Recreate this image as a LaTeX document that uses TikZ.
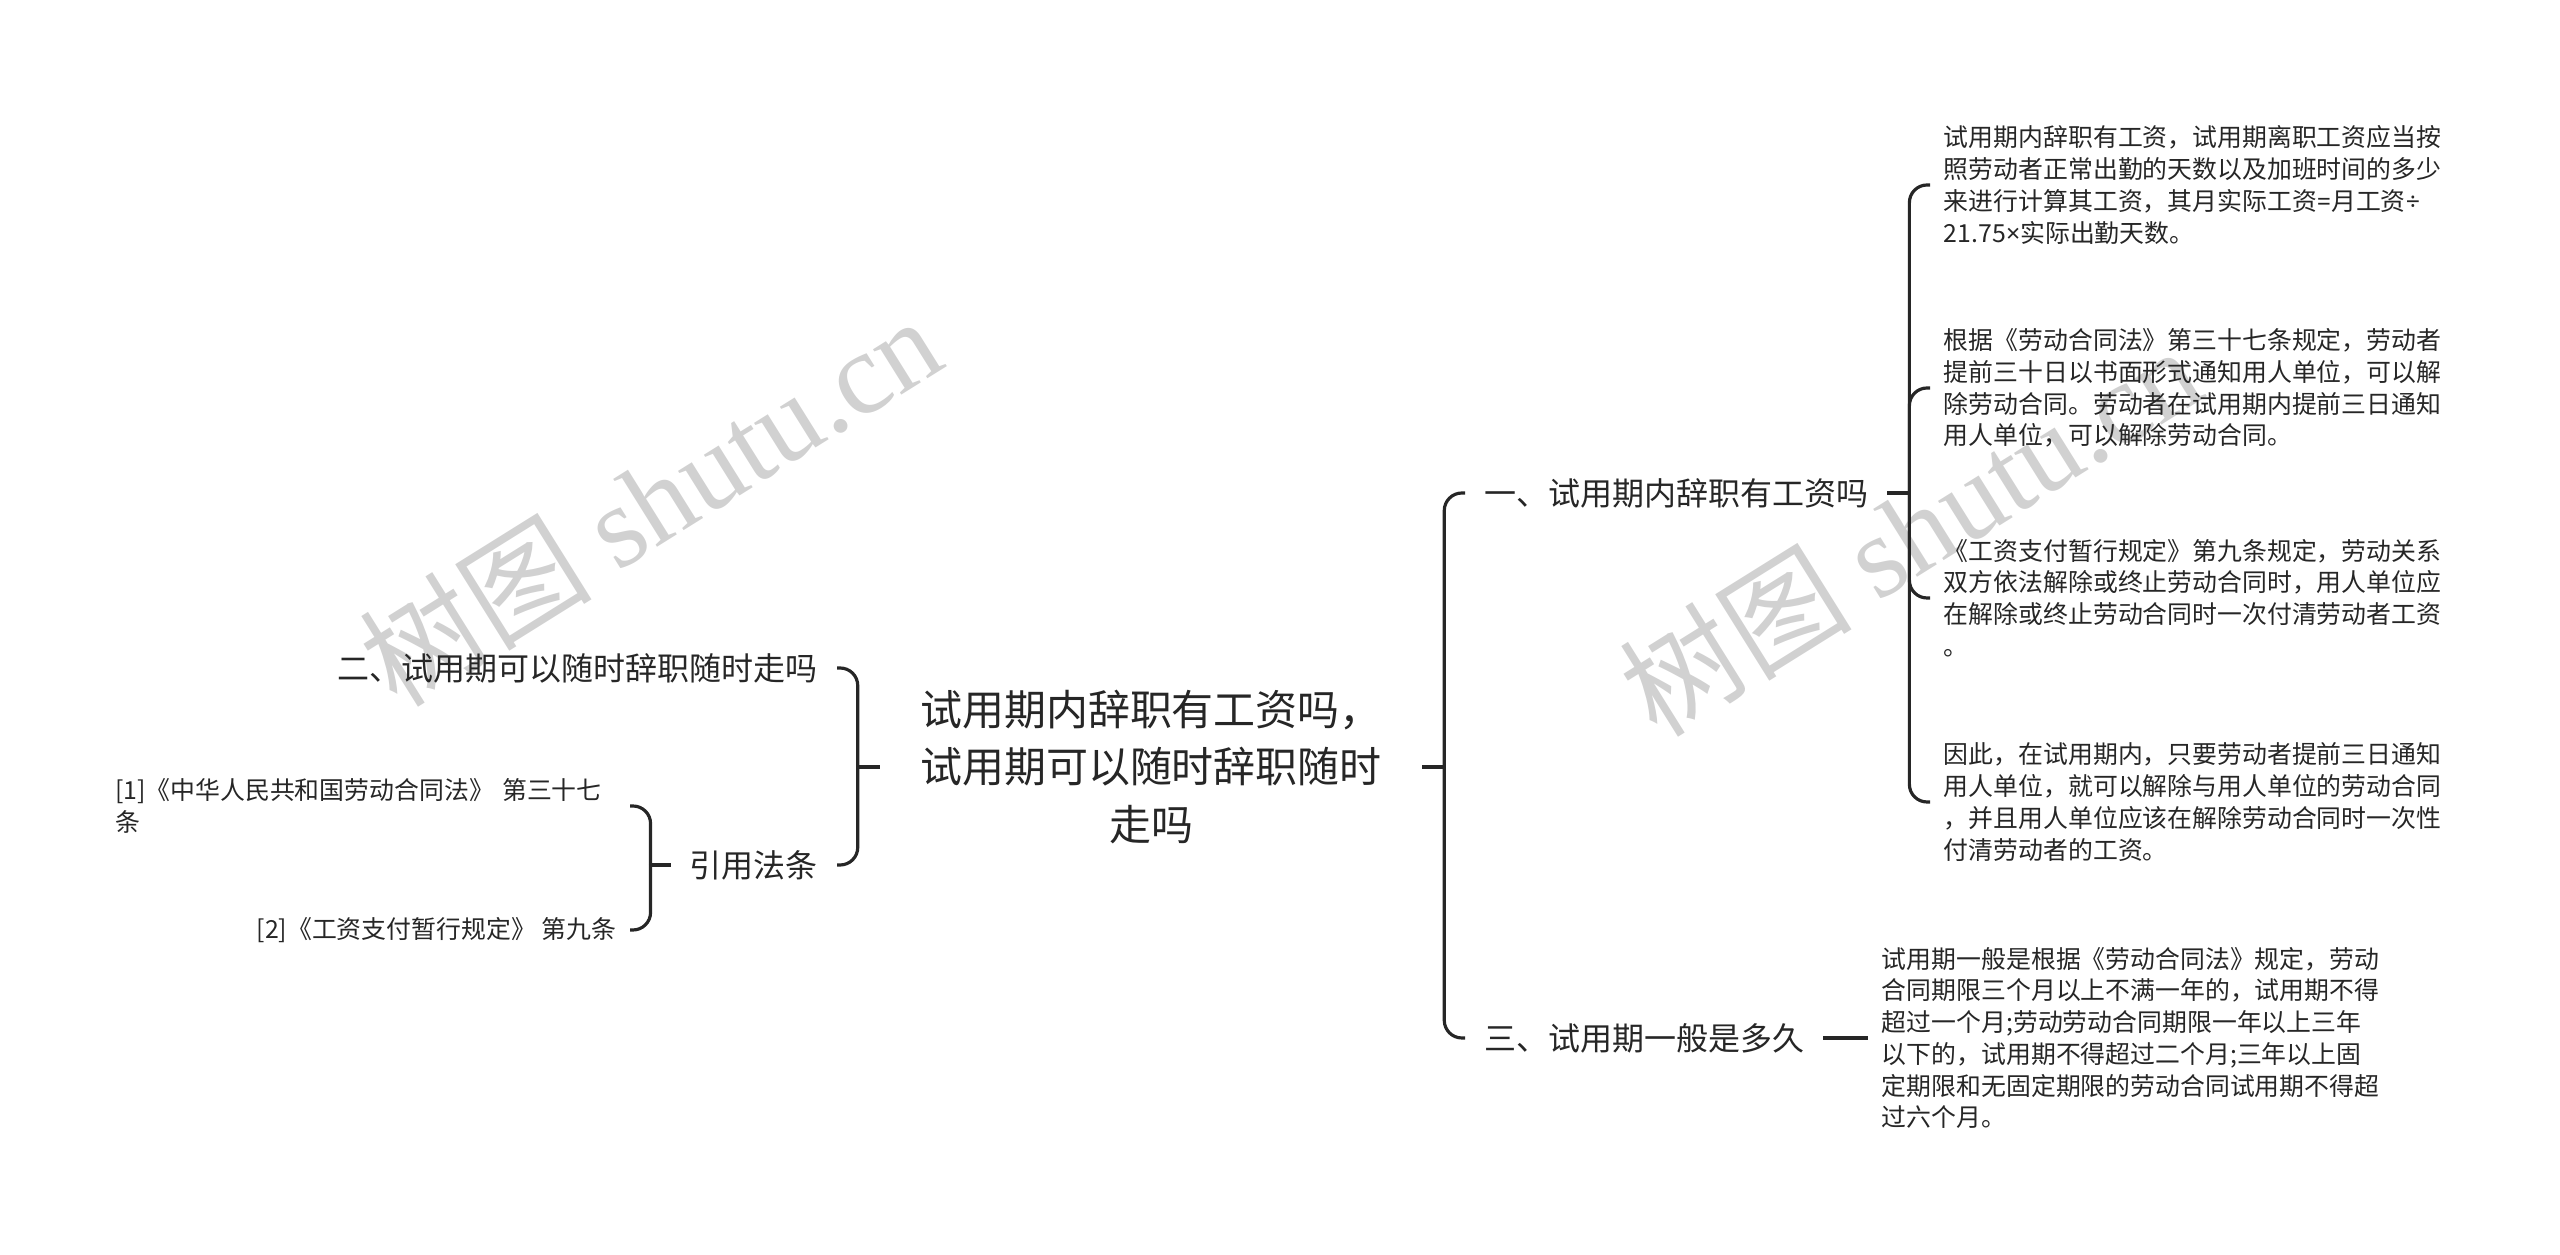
\documentclass[tikz,border=0pt]{standalone}
\usepackage{fontspec}
\setmainfont{Noto Sans CJK SC}
\newfontfamily\wmserif{Liberation Serif}
\newfontfamily\latinsign{Noto Sans}
\begin{document}
\begin{tikzpicture}[x=0.2835pt, y=-0.2835pt, line width=0.9pt, color=black!85,
    rootnode/.style={inner xsep=11pt, inner ysep=2pt, align=center, font=\fontsize{11.9}{16.2}\selectfont},
    branchnode/.style={inner xsep=5pt, inner ysep=2pt, font=\fontsize{9.07}{11}\selectfont},
    leafnode/.style={inner xsep=3.5pt, inner ysep=2pt, align=left, font=\fontsize{7.05}{9}\selectfont},
    link/.style={rounded corners=5pt},
    wmark/.style={text=black!18, rotate=32, font=\fontsize{33}{33}\selectfont}]
    \useasboundingbox (0,0) rectangle (2560,1255);
    % watermark
    \node[wmark] (wm1) at (650,500) {树图 {\wmserif shutu.cn}};
    \node[wmark] (wm2) at (1910,530) {树图 {\wmserif shutu.cn}};
    % root and branches
    \node[rootnode] (root) at (1151,767) {试用期内辞职有工资吗，\\试用期可以随时辞职随时\\走吗};
    \node[branchnode, anchor=west] (b1) at (1465,493) {一、试用期内辞职有工资吗};
    \node[branchnode, anchor=east] (b2) at (837,668) {二、试用期可以随时辞职随时走吗};
    \node[branchnode, anchor=west] (b3) at (1465,1038) {三、试用期一般是多久};
    \node[branchnode, anchor=east] (law) at (837,865) {引用法条};
    % leaves
    \node[leafnode, anchor=west] (l1) at (1930,185) {试用期内辞职有工资，试用期离职工资应当按\\照劳动者正常出勤的天数以及加班时间的多少\\来进行计算其工资，其月实际工资{\latinsign =}月工资{\latinsign ÷}\\21.75{\latinsign ×}实际出勤天数。};
    \node[leafnode, anchor=west] (l2) at (1930,388) {根据《劳动合同法》第三十七条规定，劳动者\\提前三十日以书面形式通知用人单位，可以解\\除劳动合同。劳动者在试用期内提前三日通知\\用人单位，可以解除劳动合同。};
    \node[leafnode, anchor=west] (l3) at (1930,598) {《工资支付暂行规定》第九条规定，劳动关系\\双方依法解除或终止劳动合同时，用人单位应\\在解除或终止劳动合同时一次付清劳动者工资\\。};
    \node[leafnode, anchor=west] (l4) at (1930,802) {因此，在试用期内，只要劳动者提前三日通知\\用人单位，就可以解除与用人单位的劳动合同\\，并且用人单位应该在解除劳动合同时一次性\\付清劳动者的工资。};
    \node[leafnode, anchor=west] (l5) at (1868,1038) {试用期一般是根据《劳动合同法》规定，劳动\\合同期限三个月以上不满一年的，试用期不得\\超过一个月;劳动劳动合同期限一年以上三年\\以下的，试用期不得超过二个月;三年以上固\\定期限和无固定期限的劳动合同试用期不得超\\过六个月。};
    \node[leafnode, anchor=east, text width=142pt] (c1) at (630,806) {[1]《中华人民共和国劳动合同法》 第三十七\\条};
    \node[leafnode, anchor=east] (c2) at (630,930) {[2]《工资支付暂行规定》 第九条};
    % connectors
    \draw (root.east) -- ++(22,0) coordinate (rj);
    \draw[link] (rj) |- (b1.west);
    \draw[link] (rj) |- (b3.west);
    \draw (root.west) -- ++(-22,0) coordinate (lj);
    \draw[link] (lj) |- (b2.east);
    \draw[link] (lj) |- (law.east);
    \draw (b1.east) -- ++(22,0) coordinate (bj);
    \foreach \leaf in {l1,l2,l3,l4}
        \draw[link] (bj) |- (\leaf.west);
    \draw[line width=1.3pt] (b3.east) -- (l5.west);
    \draw (law.west) -- ++(-20,0) coordinate (cj);
    \draw[link] (cj) |- (c1.east);
    \draw[link] (cj) |- (c2.east);
\end{tikzpicture}
\end{document}
